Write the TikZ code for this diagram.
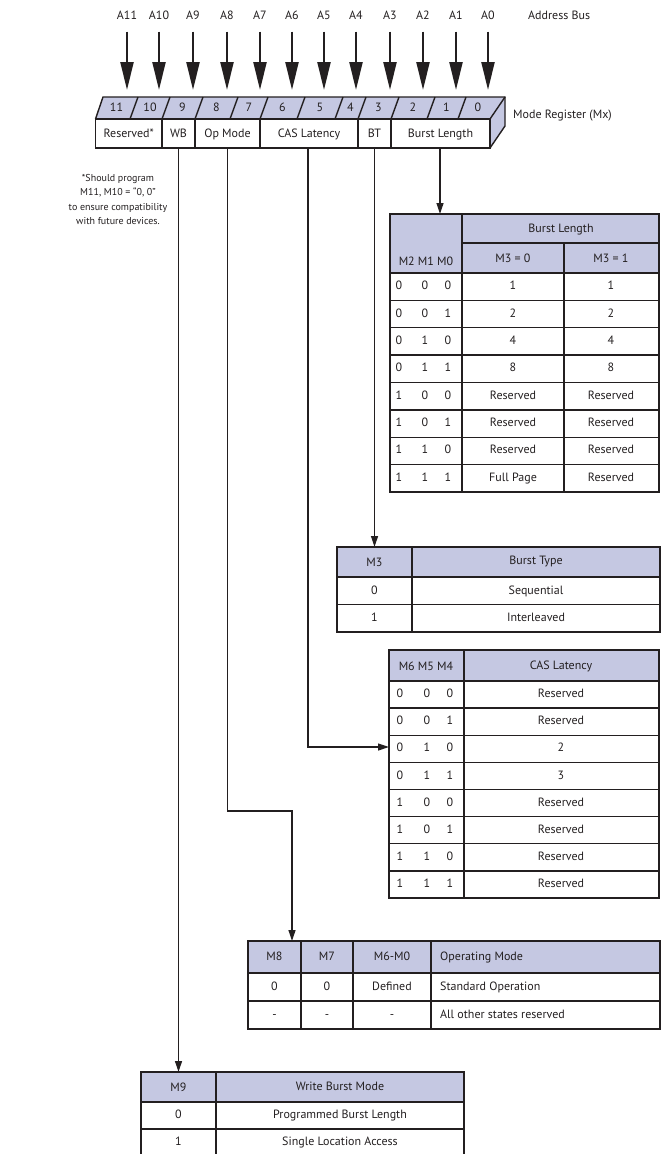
\documentclass[tikz,border=0pt]{standalone}
\usepackage{fontspec}
\setmainfont{PT Sans}
\usetikzlibrary{arrows.meta}
\definecolor{ink}{RGB}{35,31,32}
\definecolor{hdr}{RGB}{197,200,226}
\begin{document}
\begin{tikzpicture}[x=1pt,y=-1pt,
  txt/.style={font=\fontsize{12}{14}\selectfont, inner sep=0pt, text=ink, text height=8.5pt, text depth=2.5pt},
  grid/.style={draw=ink, line width=1.4pt},
  conn/.style={draw=ink, line width=1.2pt, -{Triangle[length=11pt,width=7pt]}},
  bigarr/.style={draw=ink, line width=2.2pt, -{Triangle[length=28pt,width=13pt]}, shorten <=10pt, shorten >=7pt},
]
\useasboundingbox (0,0) rectangle (665,1154);
\clip (0,0) rectangle (665,1154);

% ---------- address bus ----------
\foreach \n/\x in {11/127,10/159,9/193,8/227,7/260,6/292,5/324,4/356,3/390,2/423,1/456,0/488}{
  \node[txt] (a\n) at (\x,16) {A\n};
  \coordinate (r\n) at (\x,97);
  \draw[bigarr] (a\n.south) -- (r\n);
}
\node[txt, anchor=west] (abus) at (528,16) {Address Bus};

% ---------- mode register ----------
\fill[hdr] (95.5,119) -- (103,97) -- (505,97) -- (490,119) -- cycle;
\fill[hdr] (490,119) -- (505,97) -- (505,126) -- (490,148) -- cycle;
\draw[grid] (95.5,119) rectangle (490,148);
\draw[grid] (95.5,119) -- (103,97) -- (505,97) -- (505,126) -- (490,148);
\draw[grid] (490,119) -- (505,97);
\foreach \x in {130,162,195,230,260,297,335,358,391,427,458}{
  \draw[grid] (\x,119) -- (\x+8,97);
}
\foreach \x in {162,195,260,358,391}{
  \draw[grid] (\x,119) -- (\x,148);
}
\foreach \n/\x in {11/116.5,10/150,9/182.5,8/216.5,7/249,6/282.5,5/320,4/350.5,3/378.5,2/413,1/446.5,0/478}{
  \node[txt] (d\n) at (\x,108) {\n};
}
\node[txt] (fres) at (128.75,134) {Reserved*};
\node[txt] (fwb) at (178.5,134) {WB};
\node[txt] (fop) at (227.5,134) {Op Mode};
\node[txt] (fcas) at (309,134) {CAS Latency};
\node[txt] (fbt) at (374.5,134) {BT};
\node[txt] (fbl) at (440.5,134) {Burst Length};
\node[txt, anchor=west] (mreg) at (513,115) {Mode Register (Mx)};

\node[font=\fontsize{10}{14.3}\selectfont, text=ink, align=center, inner sep=0pt] (note) at (118,199.5)
  {*Should program\\M11, M10 = “0, 0”\\to ensure compatibility\\with future devices.};

% connector anchors on the register
\coordinate (wbB) at (178.5,148);
\coordinate (opB) at (227.5,148);
\coordinate (casB) at (308,148);
\coordinate (btB) at (374.5,148);
\coordinate (blB) at (440,148);

% ---------- Burst Length table ----------
\fill[hdr] (390,214) rectangle (659,273);
\foreach \i in {1,...,7}{ \draw[grid] (390,273+27.375*\i) -- (659,273+27.375*\i); }
\draw[grid] (390,273) -- (659,273);
\draw[grid] (462,243) -- (659,243);
\draw[grid] (462,214) -- (462,492);
\draw[grid] (564,243) -- (564,492);
\draw[grid] (390,214) rectangle (659,492);
\coordinate (blT) at (440,214);
\node[txt] (blh1) at (426,262) {M2 M1 M0};
\node[txt] (blh2) at (561,229) {Burst Length};
\node[txt] (blh3) at (513,259) {M3 = 0};
\node[txt] (blh4) at (611,259) {M3 = 1};
\foreach \a/\b/\c/\d/\e [count=\i] in {0/0/0/1/1,0/0/1/2/2,0/1/0/4/4,0/1/1/8/8,1/0/0/Reserved/Reserved,1/0/1/Reserved/Reserved,1/1/0/Reserved/Reserved,1/1/1/Full Page/Reserved}{
  \node[txt] (bla\i) at (399,273+27.375*\i-13.7) {\a};
  \node[txt] (blb\i) at (425,273+27.375*\i-13.7) {\b};
  \node[txt] (blc\i) at (448,273+27.375*\i-13.7) {\c};
  \node[txt] (bld\i) at (513,273+27.375*\i-13.7) {\d};
  \node[txt] (ble\i) at (611,273+27.375*\i-13.7) {\e};
}

% ---------- Burst Type table ----------
\fill[hdr] (337,547) rectangle (660,577);
\draw[grid] (337,577) -- (660,577);
\draw[grid] (337,604.5) -- (660,604.5);
\draw[grid] (412,547) -- (412,632);
\draw[grid] (337,547) rectangle (660,632);
\coordinate (btT) at (374.5,547);
\node[txt] (bth1) at (374.5,563) {M3};
\node[txt] (bth2) at (536,561) {Burst Type};
\node[txt] (bt0a) at (374.5,591) {0};
\node[txt] (bt0b) at (536,591) {Sequential};
\node[txt] (bt1a) at (374.5,618) {1};
\node[txt] (bt1b) at (536,618) {Interleaved};

% ---------- CAS Latency table ----------
\fill[hdr] (389,650) rectangle (659,681);
\foreach \i in {0,...,7}{ \draw[grid] (389,681+27.125*\i) -- (659,681+27.125*\i); }
\draw[grid] (464,650) -- (464,898);
\draw[grid] (389,650) rectangle (659,898);
\coordinate (casT) at (389,747);
\node[txt] (cah1) at (426,667) {M6 M5 M4};
\node[txt] (cah2) at (561,666) {CAS Latency};
\foreach \a/\b/\c/\d [count=\i] in {0/0/0/Reserved,0/0/1/Reserved,0/1/0/2,0/1/1/3,1/0/0/Reserved,1/0/1/Reserved,1/1/0/Reserved,1/1/1/Reserved}{
  \node[txt] (caa\i) at (400,681+27.125*\i-13.5) {\a};
  \node[txt] (cab\i) at (427,681+27.125*\i-13.5) {\b};
  \node[txt] (cac\i) at (450,681+27.125*\i-13.5) {\c};
  \node[txt] (cad\i) at (561,681+27.125*\i-13.5) {\d};
}

% ---------- Operating Mode table ----------
\fill[hdr] (248,941) rectangle (660,973);
\draw[grid] (248,973) -- (660,973);
\draw[grid] (248,1001) -- (660,1001);
\foreach \x in {301,353,431}{ \draw[grid] (\x,941) -- (\x,1029); }
\draw[grid] (248,941) rectangle (660,1029);
\coordinate (opT) at (292,941);
\node[txt] (oph1) at (274.5,957) {M8};
\node[txt] (oph2) at (327,957) {M7};
\node[txt] (oph3) at (392,957) {M6-M0};
\node[txt, anchor=west] (oph4) at (440,957) {Operating Mode};
\node[txt] (op1a) at (274.5,987) {0};
\node[txt] (op1b) at (327,987) {0};
\node[txt] (op1c) at (392,987) {Defined};
\node[txt, anchor=west] (op1d) at (440,987) {Standard Operation};
\node[txt] (op2a) at (274.5,1015) {-};
\node[txt] (op2b) at (327,1015) {-};
\node[txt] (op2c) at (392,1015) {-};
\node[txt, anchor=west] (op2d) at (440,1015) {All other states reserved};

% ---------- Write Burst Mode table ----------
\fill[hdr] (141,1072) rectangle (464,1102);
\draw[grid] (141,1102) -- (464,1102);
\draw[grid] (141,1129) -- (464,1129);
\draw[grid] (216,1072) -- (216,1160);
\draw[grid] (141,1072) rectangle (464,1160);
\coordinate (wbT) at (178.5,1072);
\node[txt] (wbh1) at (178.5,1088) {M9};
\node[txt] (wbh2) at (340,1087) {Write Burst Mode};
\node[txt] (wb0a) at (178.5,1115) {0};
\node[txt] (wb0b) at (340,1115) {Programmed Burst Length};
\node[txt] (wb1a) at (178.5,1142) {1};
\node[txt] (wb1b) at (340,1142) {Single Location Access};

% ---------- connectors ----------
\coordinate (opK) at (227.5,811);
\draw[conn] (blB) -- (blT);
\draw[conn] (btB) -- (btT);
\draw[conn] (casB) |- (casT);
\draw[conn] (opB) -- (opK) -| (opT);
\draw[conn] (wbB) -- (wbT);
\end{tikzpicture}
\end{document}
